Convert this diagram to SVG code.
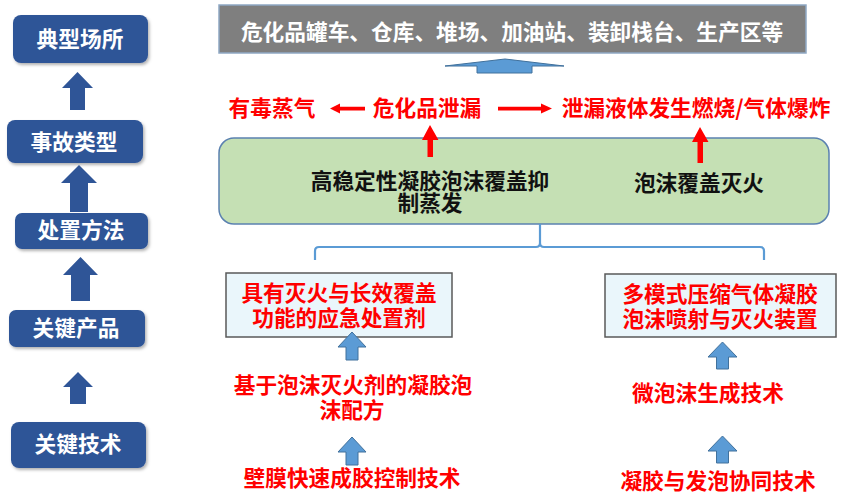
<svg xmlns="http://www.w3.org/2000/svg" width="841" height="494" viewBox="0 0 841 494">
<defs>
<filter id="sh" x="-10%" y="-10%" width="125%" height="140%">
<feDropShadow dx="1.5" dy="2" stdDeviation="1.5" flood-color="#000" flood-opacity="0.3"/>
</filter>
<style>
text{font-family:"Noto Sans CJK SC","Liberation Sans",sans-serif;font-weight:bold;font-size:21.7px;text-anchor:middle}
.lbox{fill:#2F5597}
.lt{fill:#fff}
.darr{fill:#2F5597}
.red{fill:#FF0000}
.blk{fill:#111}
.barr{fill:#5B9BD5;stroke:#41719C;stroke-width:1}
.pbox{fill:#EAF6FB;stroke:#595959;stroke-width:1.5}
</style>
</defs>
<rect width="841" height="494" fill="#fff"/>

<g id="left-column">
<g id="n-typical"><rect class="lbox" x="13" y="15" width="135" height="48" rx="8" filter="url(#sh)"/><text class="lt" x="80" y="47">典型场所</text></g>
<g id="n-accident"><rect class="lbox" x="7" y="120" width="136" height="43" rx="8" filter="url(#sh)"/><text class="lt" x="74" y="150">事故类型</text></g>
<g id="n-method"><rect class="lbox" x="15" y="213" width="133" height="36" rx="7" filter="url(#sh)"/><text class="lt" x="81" y="238">处置方法</text></g>
<g id="n-product"><rect class="lbox" x="9" y="310" width="136" height="37" rx="7" filter="url(#sh)"/><text class="lt" x="76" y="336">关键产品</text></g>
<g id="n-tech"><rect class="lbox" x="11" y="422" width="135" height="46" rx="8" filter="url(#sh)"/><text class="lt" x="78" y="452">关键技术</text></g>
</g>

<g id="n-places"><rect x="219" y="5" width="587" height="48" fill="#7F7F7F" stroke="#8FA8C4" stroke-width="1.5"/><text class="lt" x="512" y="40">危化品罐车、仓库、堆场、加油站、装卸栈台、生产区等</text></g>

<g id="n-toxic"><text class="red" x="272" y="116">有毒蒸气</text></g>
<g id="n-leak"><text class="red" x="427" y="116">危化品泄漏</text></g>
<g id="n-fire"><text class="red" x="696" y="116">泄漏液体发生燃烧/气体爆炸</text></g>

<g id="n-measures">
<rect x="219" y="138" width="610" height="86" rx="15" fill="#C5E0B4" stroke="#5B81B0" stroke-width="1.5"/>
<text class="blk" x="430" y="189">高稳定性凝胶泡沫覆盖抑</text>
<text class="blk" x="430" y="211">制蒸发</text>
<text class="blk" x="699" y="191">泡沫覆盖灭火</text>
</g>

<g id="n-agent"><rect class="pbox" x="226" y="273" width="226" height="64"/><text class="red" x="339" y="301">具有灭火与长效覆盖</text><text class="red" x="339" y="326">功能的应急处置剂</text></g>
<g id="n-device"><rect class="pbox" x="605" y="274" width="231" height="63"/><text class="red" x="720" y="302">多模式压缩气体凝胶</text><text class="red" x="720" y="327">泡沫喷射与灭火装置</text></g>
<g id="n-formula"><text class="red" x="353" y="393">基于泡沫灭火剂的凝胶泡</text><text class="red" x="352" y="418">沫配方</text></g>
<g id="n-wall"><text class="red" x="352" y="486">壁膜快速成胶控制技术</text></g>
<g id="n-micro"><text class="red" x="708" y="401">微泡沫生成技术</text></g>
<g id="n-synergy"><text class="red" x="718" y="489">凝胶与发泡协同技术</text></g>

<g id="connectors">
<polygon class="darr" points="77.5,72 93,88 85,88 85,110 70,110 70,88 62,88"/>
<polygon class="darr" points="79,165 97,183 88,183 88,212 70,212 70,183 61,183"/>
<polygon class="darr" points="80.5,257 98,275 90,275 90,301 71,301 71,275 63,275"/>
<polygon class="darr" points="78,372 93,387 86,387 86,404 70,404 70,387 63,387"/>

<polygon class="barr" points="505,59 564,66 532,66 532,73 477,73 477,66 445,66"/>

<polygon class="red" points="330,108.5 340,103.5 340,106.8 365,106.8 365,110.5 340,110.5 340,113.5"/>
<polygon class="red" points="552,108.5 541,103.5 541,106.8 498,106.8 498,110.5 541,110.5 541,113.5"/>
<polygon class="red" points="430,125 438.5,140 433,140 433,157 427.5,157 427.5,140 422,140"/>
<polygon class="red" points="700,127 708.5,142 703,142 703,163 697.5,163 697.5,142 692,142"/>

<path d="M315,260 V251 Q315,247 319,247 H536 Q540,247 540,243 V224 M540,243 Q540,247 544,247 H760 Q764,247 764,251 V260" fill="none" stroke="#5B9BD5" stroke-width="2.2"/>

<polygon class="barr" points="352,332 366,347 358,347 358,360 346,360 346,347 338,347"/>
<polygon class="barr" points="352,437 366,452 358,452 358,465 346,465 346,452 338,452"/>
<polygon class="barr" points="722.5,342 737,357 728.5,357 728.5,369 716.5,369 716.5,357 708,357"/>
<polygon class="barr" points="722.5,436 737,451 728.5,451 728.5,463 716.5,463 716.5,451 708,451"/>
</g>
</svg>
